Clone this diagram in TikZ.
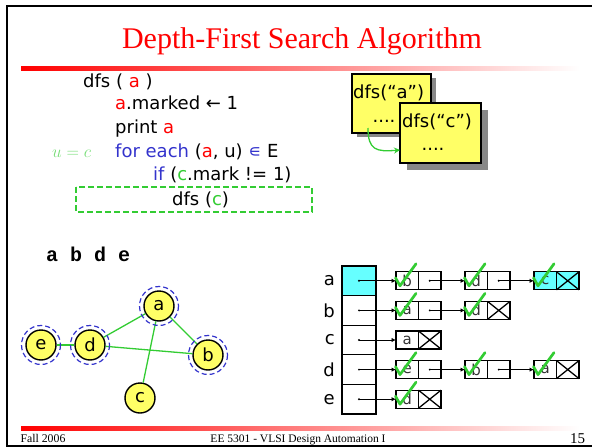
\documentclass[tikz,border=0pt]{standalone}
\usepackage{fontspec}
\setmainfont{Liberation Serif}
\newfontfamily\codefont{DejaVu Sans}
\newfontfamily\seqfont{Liberation Mono}
\usetikzlibrary{positioning,calc,arrows.meta}
\definecolor{yel}{HTML}{FFFF66}
\definecolor{cyn}{HTML}{66FFFF}
\definecolor{grn}{HTML}{33CC33}
\definecolor{lgrn}{HTML}{77DD77}
\definecolor{blu}{HTML}{3333CC}
\definecolor{shd}{HTML}{888888}
\begin{document}
\begin{tikzpicture}[x=1pt,y=-1pt,
    code/.style={anchor=base west,inner sep=0,font=\codefont\fontsize{18}{18}\selectfont},
    vtx/.style={circle,draw,line width=1.4,fill=yel,minimum size=30,inner sep=0,font=\codefont\fontsize{18}{18}\selectfont},
    vis/.style={draw=blu,dashed,dash pattern=on 5pt off 3pt,line width=1.2},
    gedge/.style={grn,line width=1.3},
    tcell/.style={draw,line width=1.3,minimum width=34,minimum height=29.6,inner sep=0,outer sep=0},
    lv/.style={draw,line width=1.3,minimum width=22.5,minimum height=18,inner sep=0,outer sep=0,font=\codefont\fontsize{15}{15}\selectfont,text=black!80},
    ptr/.style={-{Latex[length=4.5,width=4.5]},line width=0.9},
    chk/.style={grn,line width=2.7,line cap=round,line join=round},
    stk/.style={draw,line width=1.4,fill=yel,inner sep=0,outer sep=0}]
    \useasboundingbox (0,0) rectangle (592,447);
    \draw[line width=2] (7.3,5.5) rectangle (600,446);  % 边框
    \node[anchor=base,text=red,font=\fontsize{30}{30}\selectfont] (title) at (302,48) {Depth-First Search Algorithm};
    \shade[left color=red,right color=white] (21,66.5) rectangle (580,70);
    \shade[left color=red,right color=white] (21,426) rectangle (580,430);
    \node[anchor=base west,font=\fontsize{11.8}{12}\selectfont] (ft1) at (17,442) {Fall 2006};
    \node[anchor=base,font=\fontsize{11.5}{12}\selectfont] (ft2) at (298,442) {EE 5301 - VLSI Design Automation I};
    \node[anchor=base west,inner sep=0,font=\fontsize{15}{15}\selectfont] (ft3) at (570,443) {15};

    % 伪代码
    \node[code] (l1) at (83,87) {dfs ( \textcolor{red}{a} )};
    \node[code] (l2) at (115,109.5) {\textcolor{red}{a}.marked ← 1};
    \node[code] (l3) at (115,133) {print \textcolor{red}{a}};
    \node[code] (l4) at (115,157) {\textcolor{blu}{for each} (\textcolor{red}{a}, u) \textcolor{blu}{∊} E};
    \node[code] (l5) at (153,180.5) {\textcolor{blu}{if} (\textcolor{grn}{c}.mark != 1)};
    \node[code] (l6) at (172,205) {dfs (\textcolor{grn}{c})};
    \node[anchor=base west,inner sep=0,text=lgrn,font=\fontsize{17}{17}\selectfont] (uc) at (52,157) {$u=c$};
    \draw[grn,line width=1.3,dash pattern=on 6pt off 3pt] (76,187) rectangle (312,212);

    % 调用栈
    \fill[shd] (357,78) rectangle (436,137);
    \node[stk,minimum width=79,minimum height=59] (f1) at (391.5,103.5) {};
    \node[code] (f1t) at (353,98) {dfs(“a”)};
    \node[code,anchor=base] (f1d) at (384,122) {....};
    \fill[shd] (407,110) rectangle (488,170);
    \node[stk,minimum width=81,minimum height=60] (f2) at (440.5,133) {};
    \node[code] (f2t) at (402,127) {dfs(“c”)};
    \node[code,anchor=base] (f2d) at (433,150) {....};
    \coordinate (cf) at (368,128);
    \coordinate (ct) at (400,150);
    \draw[grn,line width=1.3,-{Stealth[length=6,width=6]}] (cf) .. controls (368,150) and (376,152) .. (ct);

    % 图
    \node[anchor=base west,inner sep=0,font=\seqfont\bfseries\fontsize{20}{20}\selectfont] (seq) at (46,261) {a b d e};
    \node[vtx] (a) at (159,306) {a};
    \node[vtx] (b) at (208,355) {b};
    \node[vtx] (c) at (140,398) {c};
    \node[vtx] (d) at (90,345) {d};
    \node[vtx] (e) at (41,345) {e};
    \draw[gedge] (a) -- (d);
    \draw[gedge] (a) -- (b);
    \draw[gedge] (a) -- (c);
    \draw[gedge] (d) -- (b);
    \draw[gedge] (e) -- (d);
    \draw[vis] (a) circle (19.5);
    \draw[vis] (b) circle (19.5);
    \draw[vis] (d) circle (19.5);
    \draw[vis] (e) circle (19.5);

    % 邻接表
    \node[tcell,fill=cyn] (ta) at (359,280.8) {};
    \node[tcell,below=0pt of ta] (tb) {};
    \node[tcell,below=0pt of tb] (tc) {};
    \node[tcell,below=0pt of tc] (td) {};
    \node[tcell,below=0pt of td] (te) {};
    \node[code,anchor=center,left=7 of ta] (na) {a};
    \node[code,anchor=center,left=7 of tb] (nb) {b};
    \node[code,anchor=center,left=7 of tc] (nc) {c};
    \node[code,anchor=center,left=7 of td] (nd) {d};
    \node[code,anchor=center,left=7 of te] (ne) {e};

    \node[lv,right=20 of ta] (a1) {b};
    \node[lv,right=0pt of a1] (a1p) {};
    \node[lv,right=24 of a1p] (a2) {d};
    \node[lv,right=0pt of a2] (a2p) {};
    \node[lv,right=24 of a2p,fill=cyn] (a3) {c};
    \node[lv,right=0pt of a3,fill=cyn] (a3p) {};
    \node[lv,right=20 of tb] (b1) {a};
    \node[lv,right=0pt of b1] (b1p) {};
    \node[lv,right=24 of b1p] (b2) {d};
    \node[lv,right=0pt of b2] (b2p) {};
    \node[lv,right=20 of tc] (c1) {a};
    \node[lv,right=0pt of c1] (c1p) {};
    \node[lv,right=20 of td] (d1) {e};
    \node[lv,right=0pt of d1] (d1p) {};
    \node[lv,right=24 of d1p] (d2) {b};
    \node[lv,right=0pt of d2] (d2p) {};
    \node[lv,right=24 of d2p] (d3) {a};
    \node[lv,right=0pt of d3] (d3p) {};
    \node[lv,right=20 of te] (e1) {d};
    \node[lv,right=0pt of e1] (e1p) {};

    \foreach \p/\q in {ta/a1,tb/b1,tc/c1,td/d1,te/e1,a1p/a2,a2p/a3,b1p/b2,d1p/d2,d2p/d3}{
        \fill (\p) circle (1.1);
        \draw[ptr] (\p.center) -- (\q.west);
    }
    \foreach \n in {a3p,b2p,c1p,d3p,e1p}
        \draw[line width=1.3] (\n.north west) -- (\n.south east) (\n.south west) -- (\n.north east);
    \foreach \n in {a1,a2,a3,b1,b2,d1,d2,d3,e1}
        \draw[chk] ($(\n.west)+(-0.5,-3)$) -- ++(4.5,8) -- ++(16,-22);
\end{tikzpicture}
\end{document}
